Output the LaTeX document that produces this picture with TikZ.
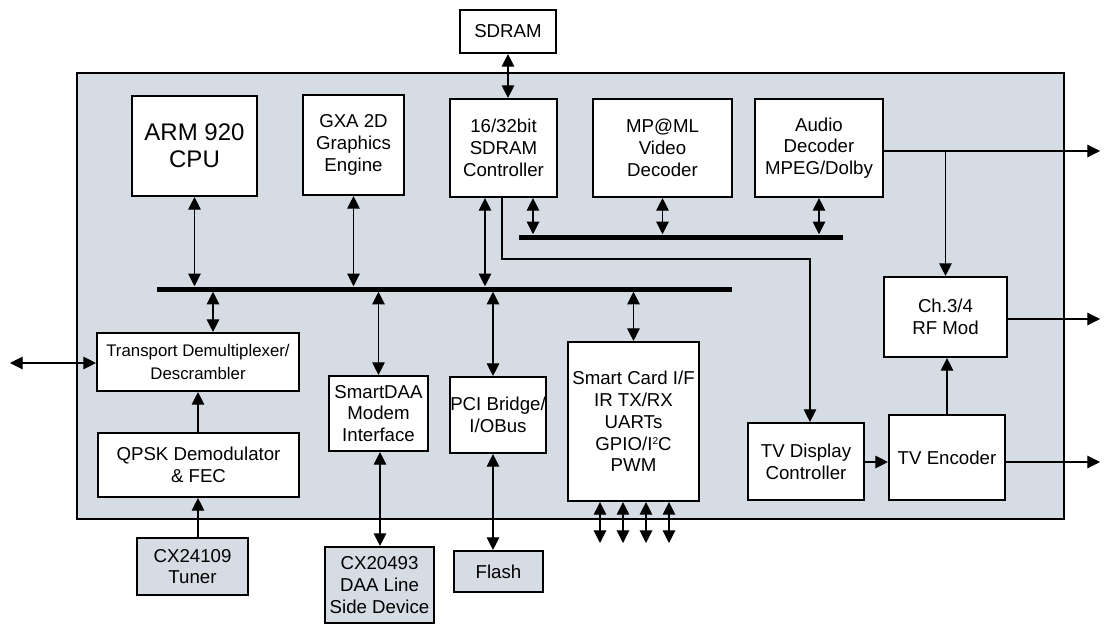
\documentclass[tikz,border=0pt]{standalone}
\usepackage{fontspec}
\setmainfont{Liberation Sans}
\usetikzlibrary{arrows.meta}
\definecolor{chipgray}{RGB}{214,220,227}
\newcommand{\suptwo}{\raisebox{4.5pt}{\fontsize{7.5}{7.5}\selectfont 2}}
\tikzset{
  blk/.style={draw, line width=1.6pt, fill=white, align=center, inner sep=0pt,
    font=\fontsize{14}{16.3}\selectfont},
  extblk/.style={blk, fill=chipgray},
  bus/.style={fill=black, inner sep=0pt, minimum height=3.75pt},
  conn/.style={line width=0.8pt, -{Triangle[length=9.5pt,width=9.5pt]}},
  dbl/.style={line width=0.8pt, {Triangle[length=9.5pt,width=9.5pt]}-{Triangle[length=9.5pt,width=9.5pt]}},
  plain/.style={line width=0.8pt}
}
\begin{document}
\begin{tikzpicture}[x=0.75pt,y=-0.75pt]
\useasboundingbox (0,0) rectangle (1104,625);
% chip outline
\draw[line width=1.5pt, fill=chipgray] (77,73) rectangle (1064,519);

% blocks
\node[blk, minimum width=72pt, minimum height=32.25pt] (sdram) at (508,31.5) {SDRAM};
\node[blk, minimum width=93.75pt, minimum height=75pt, font=\fontsize{18}{20.5}\selectfont] (arm) at (194.5,146) {ARM 920\\CPU};
\node[blk, minimum width=75.75pt, minimum height=75pt] (gxa) at (353.5,145) {GXA 2D\\Graphics\\Engine};
\node[blk, minimum width=80.25pt, minimum height=73.5pt] (ctrl) at (503.5,148) {16/32bit\\SDRAM\\Controller};
\node[blk, minimum width=104.25pt, minimum height=73.5pt] (video) at (662.5,148) {MP@ML\\Video\\Decoder};
\node[blk, minimum width=96pt, minimum height=73.5pt] (audio) at (819,148) {Audio\\Decoder\\MPEG/Dolby};
\node[blk, minimum width=151.5pt, minimum height=43.5pt, font=\fontsize{12.6}{16.7}\selectfont] (trans) at (198,362) {Transport Demultiplexer/\\Descrambler};
\node[blk, minimum width=150.75pt, minimum height=48pt] (qpsk) at (198.5,465) {QPSK Demodulator\\\& FEC};
\node[extblk, minimum width=83.25pt, minimum height=42.75pt] (tuner) at (192.5,566.5) {CX24109\\Tuner};
\node[blk, minimum width=74.25pt, minimum height=56.25pt] (sdaa) at (378.5,413.5) {SmartDAA\\Modem\\Interface};
\node[extblk, minimum width=81.75pt, minimum height=57pt] (daa) at (379.5,585) {CX20493\\DAA Line\\Side Device};
\node[blk, minimum width=69pt, minimum height=57pt] (pci) at (498,415) {PCI Bridge/\\I/OBus};
\node[extblk, minimum width=66.75pt, minimum height=30.75pt] (flash) at (498.5,571.5) {Flash};
\node[blk, minimum width=98.25pt, minimum height=119.25pt] (card) at (633.5,421.5) {Smart Card I/F\\IR TX/RX\\UARTs\\GPIO/I\suptwo C\\PWM};
\node[blk, minimum width=92.25pt, minimum height=60pt] (rf) at (945.5,317) {Ch.3/4\\RF Mod};
\node[blk, minimum width=87pt, minimum height=57.75pt] (tvdc) at (806,461.5) {TV Display\\Controller};
\node[blk, minimum width=87pt, minimum height=63.75pt] (tvenc) at (947,457.5) {TV Encoder};

% buses
\node[bus, minimum width=431.25pt] (mainbus) at (444.5,289) {};
\node[bus, minimum width=243pt] (upbus) at (681,237) {};

% helper coordinates
\coordinate (xctrlbus) at (485,0);
\coordinate (xctrlup) at (533,0);
\coordinate (xctrlline) at (502,0);
\coordinate (xtvdc) at (810,0);
\coordinate (bend) at (810,259);
\coordinate (xtrans) at (213,0);
\coordinate (xpci) at (493,0);
\coordinate (xdaa) at (380,0);
\coordinate (xqpsk) at (198,0);
\coordinate (ext) at (10,363);
\coordinate (aout) at (1100,151);
\coordinate (rfout) at (1100,319);
\coordinate (tvout) at (1100,462);
\coordinate (c1) at (600,543);
\coordinate (c2) at (623,543);
\coordinate (c3) at (646,543);
\coordinate (c4) at (669,543);

% SDRAM link
\draw[dbl] (sdram.south) -- (ctrl.north -| sdram.south);

% main bus links
\draw[dbl] (arm.south) -- (arm.south |- mainbus.north);
\draw[dbl] (gxa.south) -- (gxa.south |- mainbus.north);
\draw[dbl] (ctrl.south -| xctrlbus) -- (mainbus.north -| xctrlbus);
\draw[dbl] (mainbus.south -| xtrans) -- (trans.north -| xtrans);
\draw[dbl] (mainbus.south -| sdaa.north) -- (sdaa.north);
\draw[dbl] (mainbus.south -| xpci) -- (pci.north -| xpci);
\draw[dbl] (mainbus.south -| card.north) -- (card.north);

% upper bus links
\draw[dbl] (ctrl.south -| xctrlup) -- (upbus.north -| xctrlup);
\draw[dbl] (video.south) -- (video.south |- upbus.north);
\draw[dbl] (audio.south) -- (audio.south |- upbus.north);

% controller to TV display
\draw[conn] (ctrl.south -| xctrlline) |- (bend) -- (tvdc.north -| xtvdc);

% audio outputs
\draw[conn] (audio.east |- aout) -- (aout);
\draw[conn] (rf.north |- aout) -- (rf.north);

% RF / TV
\draw[conn] (rf.east |- rfout) -- (rfout);
\draw[conn] (tvenc.north) -- (tvenc.north |- rf.south);
\draw[conn] (tvdc.east |- tvout) -- (tvenc.west |- tvout);
\draw[conn] (tvenc.east |- tvout) -- (tvout);

% front end
\draw[dbl] (ext) -- (trans.west |- ext);
\draw[conn] (qpsk.north -| xqpsk) -- (trans.south -| xqpsk);
\draw[conn] (tuner.north -| xqpsk) -- (qpsk.south -| xqpsk);

% peripherals
\draw[dbl] (sdaa.south -| xdaa) -- (daa.north -| xdaa);
\draw[dbl] (pci.south -| xpci) -- (flash.north -| xpci);
\draw[dbl] (card.south -| c1) -- (c1);
\draw[dbl] (card.south -| c2) -- (c2);
\draw[dbl] (card.south -| c3) -- (c3);
\draw[dbl] (card.south -| c4) -- (c4);
\end{tikzpicture}
\end{document}
